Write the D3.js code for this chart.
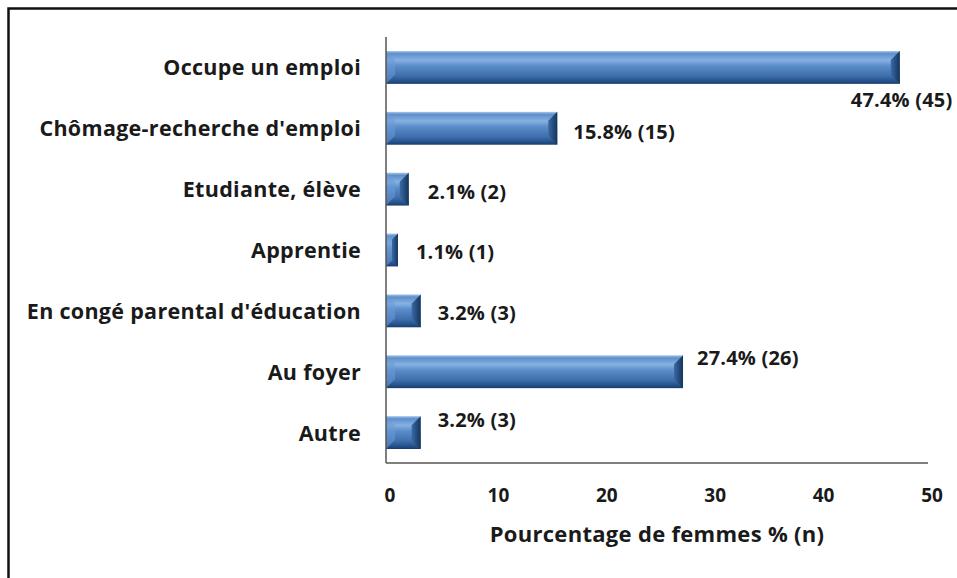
<!doctype html>
<html>
<head>
<meta charset="utf-8">
<script src="https://cdn.jsdelivr.net/npm/d3@7"></script>
<style>
  body { margin: 0; background: #fff; }
  text { font-family: "Open Sans", sans-serif; font-weight: bold; fill: #1a1a1a; }
</style>
</head>
<body>
<div id="chart"></div>
<script>
// data
const categories = ["Occupe un emploi", "Chômage-recherche d'emploi", "Etudiante, élève",
  "Apprentie", "En congé parental d'éducation", "Au foyer", "Autre"];
const percents = [47.4, 15.8, 2.1, 1.1, 3.2, 27.4, 3.2];
const counts = [45, 15, 2, 1, 3, 26, 3];
const xTicks = [0, 10, 20, 30, 40, 50];

// where Excel left each data label: [dx from bar end, baseline dy from band centre]
const labelOffsets = [[-49, 40], [16, 11], [19, 10], [18, 9], [17, 9], [14, -7], [17, -6]];

const width = 957, height = 578;
const plot = {left: 386, right: 928, top: 37, bottom: 463};

const svg = d3.select("#chart").append("svg")
  .attr("width", width)
  .attr("height", height);

const x = d3.scaleLinear().domain([0, 50]).range([plot.left, plot.right]);
const y = d3.scaleBand().domain(categories).range([plot.top, plot.bottom]).paddingInner(0.46).paddingOuter(0.23);

const defs = svg.append("defs");
const grad = defs.append("linearGradient").attr("id", "barGrad")
  .attr("x1", 0).attr("y1", 0).attr("x2", 0).attr("y2", 1);
[["0%", "#a9c6ea"], ["8%", "#5e8fcc"], ["28%", "#86b1e2"], ["45%", "#5b8dcb"],
 ["75%", "#3f70ad"], ["92%", "#24508a"], ["100%", "#1a3c66"]]
  .forEach(s => grad.append("stop").attr("offset", s[0]).attr("stop-color", s[1]));
const endGrad = defs.append("linearGradient").attr("id", "endGrad")
  .attr("x1", 0).attr("y1", 0).attr("x2", 1).attr("y2", 0);
[["0%", "#3a69a6"], ["100%", "#16345a"]]
  .forEach(s => endGrad.append("stop").attr("offset", s[0]).attr("stop-color", s[1]));

// outer frame (only top and left edges fall inside the picture)
svg.append("path")
  .attr("d", "M8.5," + height + "V8.5H" + width)
  .attr("fill", "none").attr("stroke", "#111").attr("stroke-width", 2.5);

const bars = svg.append("g").selectAll("g")
  .data(categories)
  .join("g");

bars.append("rect")
  .attr("x", x(0))
  .attr("y", d => y(d))
  .attr("width", (d, i) => x(percents[i]) - x(0))
  .attr("height", y.bandwidth())
  .attr("fill", "url(#barGrad)");

// bevelled right end
bars.append("path")
  .attr("d", (d, i) => {
    const x1 = x(percents[i]), y0 = y(d), h = y.bandwidth();
    const b = Math.min(9, (x1 - x(0)) / 2);
    return "M" + (x1 - b) + "," + (y0 + b) + "L" + x1 + "," + y0 + "V" + (y0 + h) +
      "L" + (x1 - b) + "," + (y0 + h - b) + "Z";
  })
  .attr("fill", "url(#endGrad)");

// bevelled left end
bars.append("path")
  .attr("d", (d, i) => {
    const x0 = x(0), y0 = y(d), h = y.bandwidth();
    const b = Math.min(9, (x(percents[i]) - x0) / 2);
    return "M" + x0 + "," + y0 + "L" + (x0 + b) + "," + (y0 + b) + "V" + (y0 + h - b) +
      "L" + x0 + "," + (y0 + h) + "Z";
  })
  .attr("fill", "#6b9ad4").attr("opacity", 0.55);

bars.append("text")
  .attr("x", (d, i) => x(percents[i]) + labelOffsets[i][0])
  .attr("y", (d, i) => y(d) + y.bandwidth() / 2 + labelOffsets[i][1])
  .attr("font-size", 20)
  .attr("letter-spacing", 0.2)
  .text((d, i) => percents[i].toFixed(1) + "% (" + counts[i] + ")");

// category labels
svg.append("g").selectAll("text")
  .data(categories)
  .join("text")
  .attr("x", 361)
  .attr("y", d => y(d) + y.bandwidth() / 2 + 8)
  .attr("text-anchor", "end")
  .attr("font-size", 21.5)
  .attr("letter-spacing", 0.3)
  .text(d => d);

// axes
svg.append("line")
  .attr("x1", plot.left).attr("x2", plot.left)
  .attr("y1", plot.top).attr("y2", plot.bottom)
  .attr("stroke", "#555").attr("stroke-width", 1.5);
svg.append("line")
  .attr("x1", plot.left).attr("x2", plot.right)
  .attr("y1", plot.bottom).attr("y2", plot.bottom)
  .attr("stroke", "#555").attr("stroke-width", 1.5);

svg.append("g").selectAll("text")
  .data(xTicks)
  .join("text")
  .attr("x", d => x(d) + 4)
  .attr("y", 502)
  .attr("text-anchor", "middle")
  .attr("font-size", 19)
  .text(d => d);

svg.append("text")
  .attr("x", 657)
  .attr("y", 542)
  .attr("text-anchor", "middle")
  .attr("font-size", 22)
  .attr("letter-spacing", 0.3)
  .text("Pourcentage de femmes % (n)");
</script>
</body>
</html>
